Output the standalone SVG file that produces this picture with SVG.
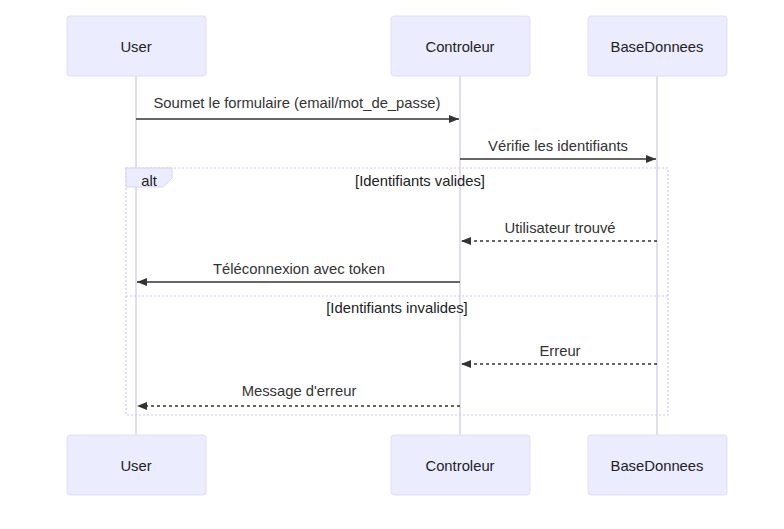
<svg xmlns="http://www.w3.org/2000/svg" width="784" height="529" viewBox="0 0 784 529">
<style>
.actor{fill:#ECECFF;stroke:#e3dcf5;stroke-width:1}
.atext{font-family:"Liberation Sans",Arial,sans-serif;font-size:14.8px;fill:#222;text-anchor:middle;dominant-baseline:central}
.life{stroke:#d9d2ef;stroke-width:1.5}
.msg{stroke:#333;stroke-width:1.6;fill:none}
.dash{stroke-dasharray:3,3}
.mtext{font-family:"Liberation Sans",Arial,sans-serif;font-size:14.8px;fill:#333;text-anchor:middle}
.loop{stroke:#cfc6ec;stroke-width:1.2;fill:none;stroke-dasharray:2,2}
.ltext{font-family:"Liberation Sans",Arial,sans-serif;font-size:14.8px;fill:#222}
</style>
<defs>
<marker id="arr" viewBox="0 0 10 8" refX="10" refY="4" markerWidth="10" markerHeight="8" markerUnits="userSpaceOnUse" orient="auto">
<path d="M0,0 L10,4 L0,8 z" fill="#333"/>
</marker>
</defs>
<rect width="784" height="529" fill="#fff"/>
<g id="lifelines">
<line class="life" x1="136" y1="76" x2="136" y2="435"/>
<line class="life" x1="460" y1="76" x2="460" y2="435"/>
<line class="life" x1="657" y1="76" x2="657" y2="435"/>
</g>
<g id="actor-user-top"><rect class="actor" x="67" y="16" width="139" height="60" rx="3"/><text class="atext" x="136" y="47">User</text></g>
<g id="actor-controleur-top"><rect class="actor" x="391" y="16" width="139" height="60" rx="3"/><text class="atext" x="460" y="47">Controleur</text></g>
<g id="actor-base-top"><rect class="actor" x="588" y="16" width="139" height="60" rx="3"/><text class="atext" x="657" y="47">BaseDonnees</text></g>
<g id="actor-user-bottom"><rect class="actor" x="67" y="435" width="139" height="60" rx="3"/><text class="atext" x="136" y="466">User</text></g>
<g id="actor-controleur-bottom"><rect class="actor" x="391" y="435" width="139" height="60" rx="3"/><text class="atext" x="460" y="466">Controleur</text></g>
<g id="actor-base-bottom"><rect class="actor" x="588" y="435" width="139" height="60" rx="3"/><text class="atext" x="657" y="466">BaseDonnees</text></g>
<g id="alt">
<rect class="loop" x="126" y="168" width="542" height="247"/>
<line class="loop" x1="126" y1="296" x2="668" y2="296"/>
<polygon points="126,168 172,168 172,178 163,187 126,187" fill="#ECECFF" stroke="#d9d2ef" stroke-width="1"/>
<text class="ltext" x="149" y="186" text-anchor="middle">alt</text>
<text class="mtext" x="420" y="186" style="fill:#222">[Identifiants valides]</text>
<text class="mtext" x="397" y="313" style="fill:#222">[Identifiants invalides]</text>
</g>
<g id="connectors">
<text class="mtext" x="297" y="108">Soumet le formulaire (email/mot_de_passe)</text>
<line class="msg" x1="136" y1="119" x2="459" y2="119" marker-end="url(#arr)"/>
<text class="mtext" x="558" y="151">Vérifie les identifiants</text>
<line class="msg" x1="460" y1="159" x2="656" y2="159" marker-end="url(#arr)"/>
<text class="mtext" x="560" y="233">Utilisateur trouvé</text>
<line class="msg dash" x1="657" y1="241" x2="461" y2="241" marker-end="url(#arr)"/>
<text class="mtext" x="299" y="274">Téléconnexion avec token</text>
<line class="msg" x1="460" y1="282" x2="137" y2="282" marker-end="url(#arr)"/>
<text class="mtext" x="560" y="356">Erreur</text>
<line class="msg dash" x1="657" y1="364" x2="461" y2="364" marker-end="url(#arr)"/>
<text class="mtext" x="299" y="396">Message d'erreur</text>
<line class="msg dash" x1="460" y1="406" x2="137" y2="406" marker-end="url(#arr)"/>
</g>
</svg>
